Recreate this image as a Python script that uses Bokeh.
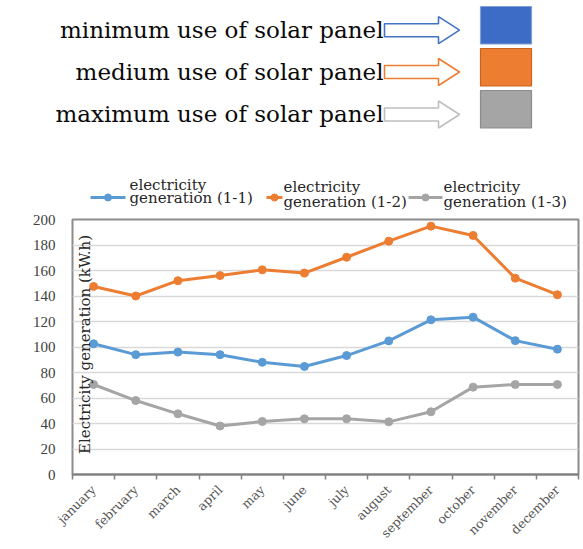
import numpy as np
from bokeh.plotting import figure
from bokeh.models import Range1d, FixedTicker, CustomJSTickFormatter, Label
from bokeh.core.properties import value
from bokeh.embed import file_html
from bokeh.resources import INLINE

# ---------------- data ----------------
months = ["january", "february", "march", "april", "may", "june", "july",
          "august", "september", "october", "november", "december"]
gen_1_1 = [102.5, 94, 96, 94, 88, 84.7, 93.3, 104.8, 121.3, 123.4, 105, 98.3]
gen_1_2 = [147.5, 140, 152, 156, 160.5, 158, 170.4, 183, 194.8, 187.5, 154, 141]
gen_1_3 = [70.6, 58, 47.6, 38, 41.6, 43.7, 43.7, 41.3, 49.2, 68.5, 70.6, 70.6]
series_first_line = ["electricity", "electricity", "electricity"]
series_second_line = ["generation (1-1)", "generation (1-2)", "generation (1-3)"]
key_labels = ["minimum use of solar panel", "medium use of solar panel",
              "maximum use of solar panel"]
y_ticks = [0, 20, 40, 60, 80, 100, 120, 140, 160, 180, 200]
y_label = "Electricity generation (kW.h)"

line_colors = ["#5B9BD5", "#ED7D31", "#A5A5A5"]
arrow_colors = ["#4472C4", "#ED7D31", "#BFBFBF"]
square_colors = ["#3C6CC6", "#ED7D31", "#A5A5A5"]
square_borders = ["#7F9FDA", "#C8641F", "#8C8C8C"]

SERIF = "DejaVu Serif"
W = 583
FL, FR = 72, 578          # chart frame left / right (page px)
FT, FB = 219, 474         # chart frame top / bottom (page px)
TOP_H = 210

# ---------------- top key + legend (page-like coordinates) ----------------
top = figure(width=W, height=TOP_H, x_range=Range1d(0, W), y_range=Range1d(TOP_H, 0),
             output_backend="svg", toolbar_location=None, min_border=0,
             x_axis_type=None, y_axis_type=None, title=None)
top.grid.visible = False
top.outline_line_color = None

row_centers = [29.7, 71.5, 114.0]
for i, (lab, c) in enumerate(zip(key_labels, row_centers)):
    top.text(x=[383], y=[c - 0.5], text=[lab], text_align="right",
             text_baseline="alphabetic", text_font=value(SERIF),
             text_font_size=value("23px"), text_color="#0a0a0a")
    xs = [384, 438, 438, 459, 438, 438, 384]
    ys = [c - 6.5, c - 6.5, c - 13.5, c, c + 13.5, c + 6.5, c + 6.5]
    top.patch(xs, ys, fill_color="white", line_color=arrow_colors[i], line_width=1.6)

sq_tops = [6, 48, 90]
for i, t in enumerate(sq_tops):
    top.quad(left=[480], right=[531], top=[t], bottom=[t + 37.5],
             fill_color=square_colors[i], line_color=square_borders[i], line_width=1.2)

# legend
leg_line_x = [(90, 125), (266, 282), (408, 442)]
leg_text_x = [129, 283, 443]
leg_base1 = [184, 186, 186]
leg_base2 = [197, 201, 201]
for i in range(3):
    x0, x1 = leg_line_x[i]
    top.line([x0, x1], [197, 197], line_color=line_colors[i], line_width=3)
    top.scatter([(x0 + x1) / 2], [197], size=7, color=line_colors[i])
    top.text(x=[leg_text_x[i], leg_text_x[i]], y=[leg_base1[i], leg_base2[i]],
             text=[series_first_line[i], series_second_line[i]],
             text_align="left", text_baseline="alphabetic", text_font=value(SERIF),
             text_font_size=value("15px"), text_color="#262626")

# ---------------- main chart ----------------
BOT_H = 549 - TOP_H
p = figure(width=W, height=BOT_H, x_range=Range1d(0, 12), y_range=Range1d(0, 200),
           output_backend="svg", toolbar_location=None, title=None,
           min_border_left=FL, min_border_right=W - FR,
           min_border_top=FT - TOP_H, min_border_bottom=549 - FB)

xc = [i + 0.5 for i in range(len(months))]
for ys, col in zip([gen_1_1, gen_1_2, gen_1_3], line_colors):
    p.line(xc, ys, line_color=col, line_width=3)
    p.scatter(xc, ys, size=8, color=col)

p.xaxis.ticker = FixedTicker(ticks=xc, minor_ticks=list(range(len(months) + 1)))
p.xaxis.formatter = CustomJSTickFormatter(args=dict(names=months),
                                          code="return names[Math.floor(tick)] || '';")
p.xaxis.major_label_orientation = np.pi / 4
p.xaxis.major_tick_line_color = None
p.xaxis.major_tick_out = 0
p.xaxis.major_tick_in = 0
p.xaxis.minor_tick_line_color = "#808080"
p.xaxis.minor_tick_line_width = 1.5
p.xaxis.minor_tick_out = 5
p.xaxis.minor_tick_in = 0
p.xaxis.axis_line_color = "#808080"
p.xaxis.axis_line_width = 2
p.xaxis.major_label_text_font = SERIF
p.xaxis.major_label_text_font_size = "12.5px"
p.xaxis.major_label_text_color = "#555555"
p.xaxis.major_label_standoff = 8

p.yaxis.ticker = FixedTicker(ticks=y_ticks)
p.yaxis.major_tick_line_color = None
p.yaxis.minor_tick_line_color = None
p.yaxis.major_tick_out = 0
p.yaxis.major_tick_in = 0
p.yaxis.axis_line_color = None
p.yaxis.major_label_text_font = "Liberation Serif"
p.yaxis.major_label_text_font_size = "15px"
p.yaxis.major_label_text_color = "#404040"
p.yaxis.major_label_standoff = 17

p.xgrid.grid_line_color = None
p.ygrid.grid_line_color = "#d9d9d9"
p.ygrid.grid_line_width = 1.5
p.outline_line_color = "#8c8c8c"
p.outline_line_width = 2

p.add_layout(Label(x=0.285, y=102, text=y_label, angle=np.pi / 2,
                   text_align="center", text_baseline="middle",
                   text_font=SERIF, text_font_size="15px", text_color="#262626"))

open("out.html", "w").write(file_html([top, p], INLINE))
